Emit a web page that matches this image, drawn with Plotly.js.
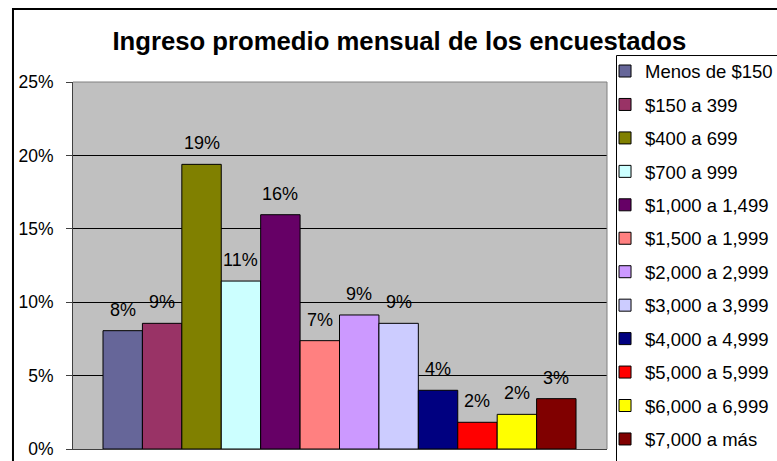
<!DOCTYPE html>
<html>
<head>
<meta charset="utf-8">
<script src="https://cdn.plot.ly/plotly-3.0.1.min.js"></script>
<style>
  html, body { margin: 0; padding: 0; background: #ffffff; }
  #chart { width: 777px; height: 461px; }
</style>
</head>
<body>
<div id="chart"></div>
<script>
// ---- Data ----
var categories = [
  "Menos de $150", "$150 a 399", "$400 a 699", "$700 a 999",
  "$1,000 a 1,499", "$1,500 a 1,999", "$2,000 a 2,999", "$3,000 a 3,999",
  "$4,000 a 4,999", "$5,000 a 5,999", "$6,000 a 6,999", "$7,000 a más"
];
var values = [8.06, 8.56, 19.39, 11.44, 15.96, 7.38, 9.13, 8.56, 4.00, 1.82, 2.36, 3.43];
var colors = [
  "#666699", "#993366", "#808000", "#CCFFFF",
  "#660066", "#FF8080", "#CC99FF", "#CCCCFF",
  "#000080", "#FF0000", "#FFFF00", "#800000"
];
var yTickVals = [0, 5, 10, 15, 20, 25];
var yTickText = ["0%", "5%", "10%", "15%", "20%", "25%"];
var titleText = "Ingreso promedio mensual de los encuestados";

var FONT = "Liberation Sans, Arial, sans-serif";

var traces = categories.map(function (name, i) {
  return {
    type: "bar",
    name: name,
    x: [name],
    y: [values[i]],
    legendgroup: "g" + i,
    marker: { color: colors[i], line: { color: "#000000", width: 1 } },
    hoverinfo: "name+y"
  };
});

var annotations = categories.map(function (name, i) {
  return {
    x: name, y: values[i], xref: "x", yref: "y",
    text: Math.round(values[i]) + "%",
    showarrow: false, yanchor: "middle", yshift: 21,
    font: { family: FONT, size: 18, color: "#000000" }
  };
});

// paper spans y from 8px (top margin) to 461px (bottom); plot area domain 82..449px
var layout = {
  width: 777, height: 461,
  paper_bgcolor: "#ffffff",
  plot_bgcolor: "#C0C0C0",
  margin: { l: 73, r: 170, t: 8, b: 0, autoexpand: false },
  barmode: "overlay",
  bargap: 0,
  title: {
    text: "<b>" + titleText + "</b>",
    font: { family: FONT, size: 25.7, color: "#000000" },
    xref: "container", x: 0.514, xanchor: "center",
    yref: "container", y: 0.9115, yanchor: "middle"
  },
  xaxis: {
    type: "category",
    range: [-1.261, 12.286],
    showticklabels: false,
    ticks: "",
    showgrid: false,
    zeroline: false,
    showline: true, linecolor: "#404040", linewidth: 1,
    fixedrange: true
  },
  yaxis: {
    domain: [0.02649, 0.83664],
    range: [0, 25],
    tickmode: "array",
    tickvals: yTickVals,
    ticktext: yTickText,
    ticks: "outside", ticklen: 6, tickcolor: "#404040", tickwidth: 1,
    ticklabelstandoff: 9,
    tickfont: { family: FONT, size: 17.5, color: "#000000" },
    showgrid: true, gridcolor: "#000000", gridwidth: 1,
    zeroline: false,
    showline: true, linecolor: "#404040", linewidth: 1,
    fixedrange: true
  },
  showlegend: true,
  legend: {
    x: 0.9963, xanchor: "left", xref: "paper",
    y: 0.9018, yanchor: "top", yref: "paper",
    bgcolor: "rgba(0,0,0,0)",
    borderwidth: 0,
    tracegroupgap: 6.4,
    traceorder: "grouped",
    font: { family: FONT, size: 18.5, color: "#000000" }
  },
  annotations: annotations,
  shapes: [
    // plot area frame (top and right, gray)
    { type: "line", xref: "x domain", yref: "y domain", x0: 0, x1: 1, y0: 1, y1: 1,
      line: { color: "#808080", width: 1 }, layer: "above" },
    { type: "line", xref: "x domain", yref: "y domain", x0: 1, x1: 1, y0: 0, y1: 1,
      line: { color: "#808080", width: 1 }, layer: "above" },
    // outer chart border
    { type: "rect", xref: "paper", yref: "paper",
      x0: -0.1124, x1: 1.5, y0: -0.2, y1: 0.99779,
      line: { color: "#000000", width: 2 }, fillcolor: "rgba(0,0,0,0)" },
    // legend border
    { type: "rect", xref: "paper", yref: "paper",
      x0: 1.0178, x1: 1.5, y0: -0.2, y1: 0.8951,
      line: { color: "#000000", width: 1 }, fillcolor: "rgba(0,0,0,0)" }
  ]
};

Plotly.newPlot("chart", traces, layout, { displayModeBar: false, staticPlot: true });
</script>
</body>
</html>
